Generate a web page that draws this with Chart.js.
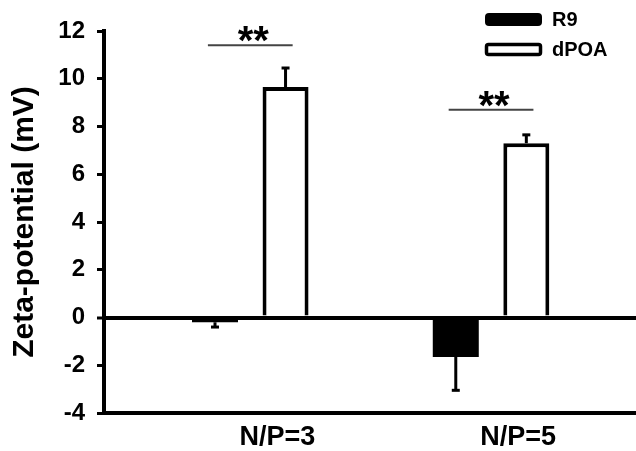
<!DOCTYPE html>
<html>
<head>
<meta charset="utf-8">
<script src="https://cdn.jsdelivr.net/npm/chart.js@4/dist/chart.umd.min.js"></script>
<style>
  html, body { margin: 0; padding: 0; background: #fff; }
  #wrap { width: 636px; height: 451px; }
</style>
</head>
<body>
<div id="wrap"><canvas id="c" width="636" height="451"></canvas></div>
<script>
// ---- data ----
const categories = ['N/P=3', 'N/P=5'];
const seriesNames = ['R9', 'dPOA'];
const r9Values = [-0.2, -1.65];
const r9Errors = [0.2, 1.4];
const dpoaValues = [9.65, 7.3];
const dpoaErrors = [0.8, 0.35];
const sigLabels = ['**', '**'];
const sigLevels = [11.4, 8.7];
const yTicks = [-4, -2, 0, 2, 4, 6, 8, 10, 12];
const yTitle = 'Zeta-potential (mV)';

const FONT = "'Liberation Sans', Arial, sans-serif";

const toPoints = vals => vals.map((v, i) => ({ x: i + 1, y: v }));

const errorBarPlugin = {
  id: 'errorBars',
  afterDatasetsDraw(chart) {
    const ctx = chart.ctx;
    const y = chart.scales.y;
    ctx.save();
    ctx.strokeStyle = '#000';
    ctx.lineCap = 'butt';
    chart.data.datasets.forEach((ds, d) => {
      const meta = chart.getDatasetMeta(d);
      meta.data.forEach((el, i) => {
        const v = ds.data[i].y;
        const e = ds.errors[i];
        const sign = v >= 0 ? 1 : -1;
        const y0 = y.getPixelForValue(v);
        const y1 = y.getPixelForValue(v + sign * e);
        ctx.lineWidth = 3;
        ctx.beginPath();
        ctx.moveTo(el.x, y0);
        ctx.lineTo(el.x, y1);
        ctx.stroke();
        ctx.lineWidth = 3;
        ctx.beginPath();
        ctx.moveTo(el.x - 4, y1);
        ctx.lineTo(el.x + 4, y1);
        ctx.stroke();
      });
    });
    ctx.restore();
  }
};

const sigPlugin = {
  id: 'significance',
  afterDatasetsDraw(chart) {
    const ctx = chart.ctx;
    const xs = chart.scales.x, ys = chart.scales.y;
    ctx.save();
    sigLabels.forEach((lab, i) => {
      const cx = xs.getPixelForValue(i + 1);
      const half = xs.getPixelForValue(1.176) - xs.getPixelForValue(1);
      const yy = ys.getPixelForValue(sigLevels[i]);
      ctx.strokeStyle = '#444';
      ctx.lineWidth = 2;
      ctx.beginPath();
      ctx.moveTo(cx - half, yy);
      ctx.lineTo(cx + half, yy);
      ctx.stroke();
      ctx.fillStyle = '#000';
      ctx.font = 'bold 40px ' + FONT;
      ctx.textAlign = 'center';
      ctx.textBaseline = 'middle';
      ctx.fillText(lab, cx + 3, yy - 2);
    });
    ctx.restore();
  }
};

const legendPlugin = {
  id: 'customLegend',
  afterDraw(chart) {
    const ctx = chart.ctx;
    ctx.save();
    const bx = 485, bw = 57, bh = 12;
    const rows = [13, 43];
    chart.data.datasets.forEach((ds, d) => {
      const top = rows[d];
      ctx.beginPath();
      if (ds.backgroundColor === '#000') {
        ctx.fillStyle = '#000';
        ctx.roundRect(bx, top, bw, bh + 1, 4);
        ctx.fill();
      } else {
        ctx.fillStyle = '#fff';
        ctx.strokeStyle = '#000';
        ctx.lineWidth = 3.5;
        ctx.roundRect(bx + 1.5, top + 1.5, bw - 3, bh - 2, 2);
        ctx.fill();
        ctx.stroke();
      }
      ctx.fillStyle = '#000';
      ctx.font = 'bold 20px ' + FONT;
      ctx.textAlign = 'left';
      ctx.textBaseline = 'middle';
      ctx.fillText(ds.label, 552, top + 7);
    });
    ctx.restore();
  }
};

new Chart(document.getElementById('c'), {
  type: 'bar',
  data: {
    datasets: [
      {
        label: seriesNames[0],
        data: toPoints(r9Values),
        errors: r9Errors,
        backgroundColor: '#000',
        borderColor: '#000',
        borderWidth: 0
      },
      {
        label: seriesNames[1],
        data: toPoints(dpoaValues),
        errors: dpoaErrors,
        backgroundColor: '#fff',
        borderColor: '#000',
        borderWidth: 4,
        borderSkipped: 'start'
      }
    ]
  },
  options: {
    responsive: false,
    animation: false,
    categoryPercentage: 0.586,
    barPercentage: 0.652,
    layout: { padding: { top: 31, right: 0, left: 0, bottom: 0 } },
    plugins: { legend: { display: false }, tooltip: { enabled: false } },
    scales: {
      x: {
        type: 'linear',
        offset: false,
        min: 0.3925,
        max: 2.602,
        afterBuildTicks: axis => { axis.ticks = categories.map((c, i) => ({ value: i + 1 })); },
        afterFit: axis => { axis.height = 38; },
        grid: { display: false, drawTicks: false, offset: false },
        border: { display: true, color: '#000', width: 4 },
        ticks: {
          callback: v => categories[v - 1],
          color: '#000',
          font: { family: FONT, size: 27, weight: 'bold' },
          padding: 8,
          labelOffset: 27,
          maxRotation: 0,
          autoSkip: false
        }
      },
      y: {
        min: yTicks[0],
        max: yTicks[yTicks.length - 1],
        afterBuildTicks: axis => { axis.ticks = yTicks.map(v => ({ value: v })); },
        afterFit: axis => { axis.width = 104; },
        grid: {
          display: true,
          drawOnChartArea: true,
          drawTicks: true,
          tickLength: 7,
          tickWidth: 3,
          tickColor: '#000',
          color: c => (c.tick && c.tick.value === 0) ? '#000' : 'rgba(0,0,0,0)',
          lineWidth: c => (c.tick && c.tick.value === 0) ? 4 : 1
        },
        border: { display: true, color: '#000', width: 4 },
        ticks: {
          color: '#000',
          font: { family: FONT, size: 24, weight: 'bold' },
          padding: 12
        },
        title: {
          display: true,
          text: yTitle,
          color: '#000',
          font: { family: FONT, size: 30, weight: 'bold' },
          padding: { top: 7, bottom: 0 }
        }
      }
    }
  },
  plugins: [errorBarPlugin, sigPlugin, legendPlugin]
});
</script>
</body>
</html>
